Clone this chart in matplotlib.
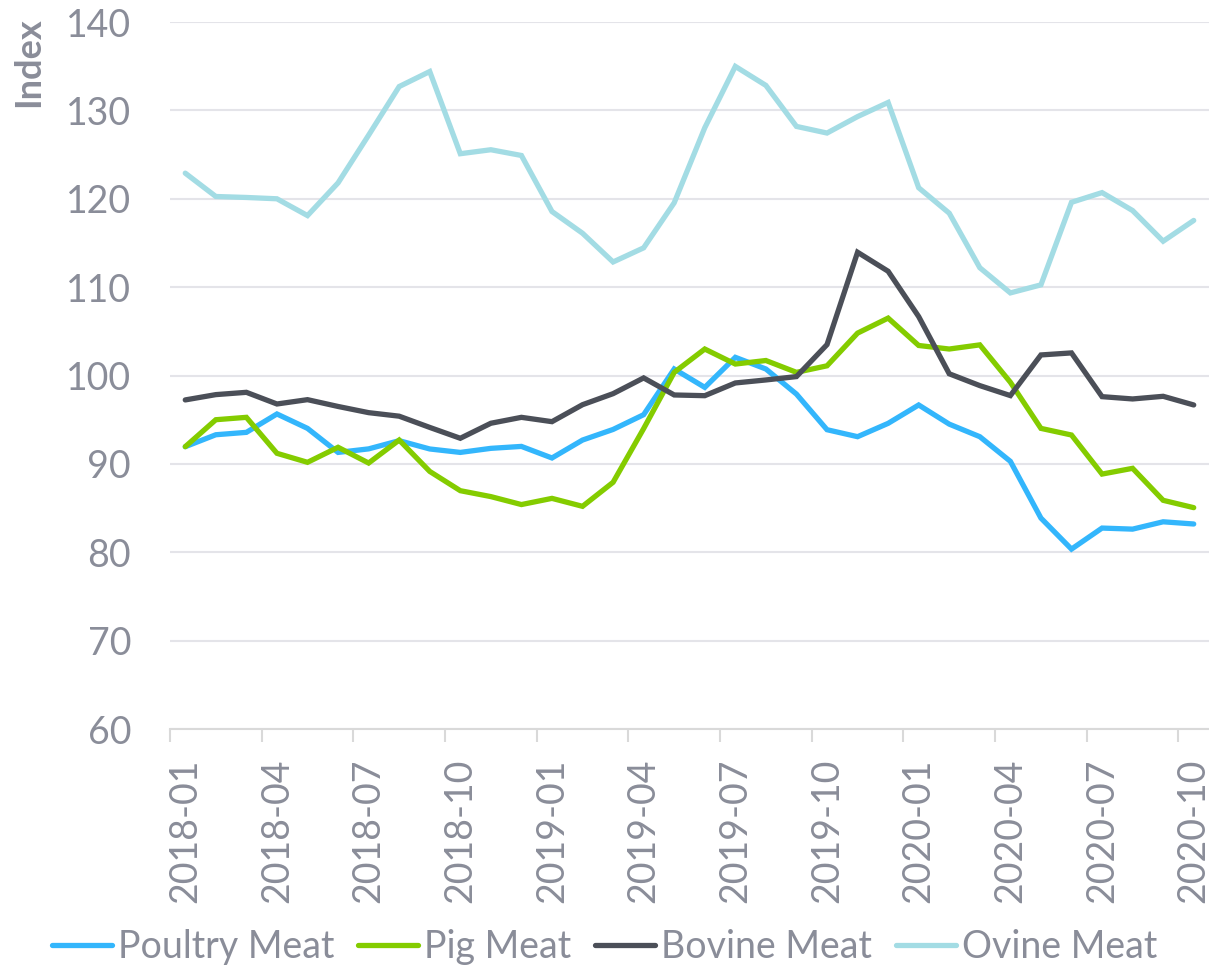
import matplotlib
matplotlib.use("Agg")
import matplotlib.pyplot as plt
import numpy as np

months = [f"{y}-{m:02d}" for y in (2018, 2019, 2020) for m in range(1, 13)][:34]

poultry = [91.95, 93.3, 93.57, 95.65, 94.02, 91.3, 91.7, 92.63, 91.69, 91.3,
           91.76, 91.98, 90.67, 92.7, 93.9, 95.57, 100.74, 98.66, 102.06, 100.74,
           97.9, 93.87, 93.08, 94.59, 96.67, 94.5, 93.08, 90.29, 83.87, 80.36,
           82.74, 82.62, 83.45, 83.2]
pig = [91.95, 95.0, 95.27, 91.2, 90.18, 91.88, 90.1, 92.7, 89.15, 86.97,
       86.3, 85.4, 86.1, 85.2, 87.92, 94.0, 100.36, 103.0, 101.3, 101.7,
       100.36, 101.1, 104.8, 106.5, 103.4, 103.0, 103.47, 99.24, 94.02, 93.27,
       88.85, 89.5, 85.88, 85.05]
bovine = [97.24, 97.84, 98.1, 96.78, 97.27, 96.5, 95.8, 95.4, 94.13, 92.9,
          94.6, 95.27, 94.78, 96.7, 97.95, 99.73, 97.8, 97.72, 99.16, 99.5,
          99.88, 103.5, 113.95, 111.8, 106.67, 100.2, 98.86, 97.73, 102.33, 102.56,
          97.61, 97.35, 97.65, 96.67]
ovine = [122.9, 120.26, 120.15, 120.0, 118.1, 121.8, 127.2, 132.7, 134.4, 125.1,
         125.55, 124.9, 118.56, 116.1, 112.85, 114.45, 119.55, 128.04, 134.98, 132.83,
         128.19, 127.44, 129.3, 130.9, 121.25, 118.37, 112.2, 109.35, 110.26, 119.6,
         120.7, 118.67, 115.2, 117.55]

series = [("Poultry Meat", poultry, "#33b6fc"),
          ("Pig Meat", pig, "#84cc00"),
          ("Bovine Meat", bovine, "#4b4f58"),
          ("Ovine Meat", ovine, "#a3dce4")]

text_col = "#8a8d99"
grid_col = "#e4e4e9"
plt.rcParams["font.family"] = ["Lato", "DejaVu Sans"]

fig = plt.figure(figsize=(12.09, 9.71), dpi=100)
ax = fig.add_axes([0.1406, 0.2492, 0.8594, 0.7281])

x = np.arange(len(months))
for name, vals, col in series:
    ax.plot(x, vals, color=col, lw=3.8, label=name, solid_capstyle="round",
            solid_joinstyle="miter")

ax.set_ylim(60, 140)
ax.set_xlim(-0.5, len(months) - 0.5)
ax.set_yticks(range(60, 141, 10))
ax.yaxis.grid(True, color=grid_col, lw=1.5)
ax.set_axisbelow(True)

ax.set_xticks(x[::3])
ax.set_xticklabels(months[::3], rotation=90)
ax.set_xticks(np.arange(-0.5, len(months), 3), minor=True)
ax.tick_params(axis="x", which="major", length=0, pad=21, labelsize=27,
               labelcolor=text_col)
ax.tick_params(axis="x", which="minor", length=9, width=1.5, color="#d9d9d9")
ax.tick_params(axis="y", length=0, pad=28, labelsize=27, labelcolor=text_col)

for s in ("top", "right", "left"):
    ax.spines[s].set_visible(False)
ax.spines["bottom"].set_color("#d9d9d9")
ax.spines["bottom"].set_linewidth(1.5)

ax.set_ylabel("Index", fontsize=26, fontweight="bold", color=text_col)
ax.yaxis.set_label_coords(-0.12, 0.943)

fig.legend(loc="center", bbox_to_anchor=(0.5, 0.025), ncol=4, frameon=False,
           fontsize=27, labelcolor=text_col, handlelength=1.6,
           handletextpad=0.15, columnspacing=0.65, borderaxespad=0)

fig.savefig("out.png", dpi=100)
